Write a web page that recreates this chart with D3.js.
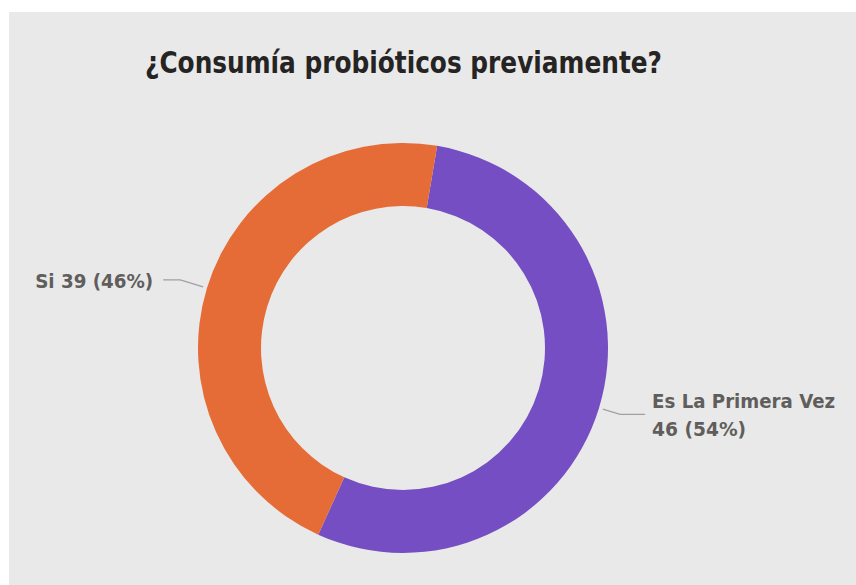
<!DOCTYPE html>
<html>
<head>
<meta charset="utf-8">
<script src="https://cdn.jsdelivr.net/npm/d3@7"></script>
<style>
  html, body { margin: 0; padding: 0; background: #ffffff; }
  svg { display: block; }
</style>
</head>
<body>
<svg id="chart" width="856" height="585"></svg>
<script>
const title = "¿Consumía probióticos previamente?";
const categories = ["Es La Primera Vez", "Si"];
const values = [46, 39];
const percents = ["54%", "46%"];
const colors = ["#744EC2", "#E66C37"];

const svg = d3.select("#chart");
const W = 856, H = 585;

svg.append("rect")
  .attr("x", 9).attr("y", 12)
  .attr("width", W - 9).attr("height", H - 12)
  .attr("fill", "#e9e9e9");

svg.append("text")
  .attr("x", 145).attr("y", 73)
  .attr("font-family", "'Liberation Sans Narrow', 'DejaVu Sans Condensed', sans-serif")
  .attr("font-weight", "bold")
  .attr("font-size", 31)
  .attr("fill", "#252423")
  .attr("textLength", 517)
  .attr("lengthAdjust", "spacingAndGlyphs")
  .text(title);

const cx = 403, cy = 348, rOuter = 205, rInner = 142;
const offset = 9.6 * Math.PI / 180;

const data = categories.map((c, i) => ({ cat: c, value: values[i], pct: percents[i], color: colors[i] }));

const pie = d3.pie().sort(null).value(d => d.value)
  .startAngle(offset).endAngle(offset + 2 * Math.PI);
const arc = d3.arc().innerRadius(rInner).outerRadius(rOuter);

const g = svg.append("g").attr("transform", `translate(${cx},${cy})`);
const arcs = pie(data);

g.selectAll("path.slice").data(arcs).enter().append("path")
  .attr("class", "slice")
  .attr("d", arc)
  .attr("fill", d => d.data.color);

const labelFont = "'DejaVu Sans Condensed', 'DejaVu Sans', sans-serif";
const labelColor = "#605E5C";

arcs.forEach((a, i) => {
  const mid = (a.startAngle + a.endAngle) / 2;
  const sx = Math.sin(mid), sy = -Math.cos(mid);
  const p1 = [sx * 209, sy * 209];
  const rElbow = i === 0 ? 227 : 233;
  const p2 = [sx * rElbow, sy * rElbow];
  const right = sx > 0;
  const p3 = [p2[0] + (right ? 25 : -17), p2[1]];
  g.append("path")
    .attr("d", d3.line()([p1, p2, p3]))
    .attr("fill", "none")
    .attr("stroke", "#a0a0a0")
    .attr("stroke-width", 1.3);

  const tx = p3[0] + (right ? 7 : -10);
  if (right) {
    const t1 = g.append("text")
      .attr("x", tx).attr("y", p3[1] - 6)
      .attr("font-family", labelFont).attr("font-weight", "bold")
      .attr("font-size", 19).attr("fill", labelColor)
      .attr("textLength", 183).attr("lengthAdjust", "spacingAndGlyphs")
      .text(a.data.cat);
    g.append("text")
      .attr("x", tx).attr("y", p3[1] + 22)
      .attr("font-family", labelFont).attr("font-weight", "bold")
      .attr("font-size", 19).attr("fill", labelColor)
      .attr("textLength", 94).attr("lengthAdjust", "spacingAndGlyphs")
      .text(`${a.data.value} (${a.data.pct})`);
  } else {
    g.append("text")
      .attr("x", tx - 118).attr("y", p3[1] + 8)
      .attr("font-family", labelFont).attr("font-weight", "bold")
      .attr("font-size", 19).attr("fill", labelColor)
      .attr("textLength", 118).attr("lengthAdjust", "spacingAndGlyphs")
      .text(`${a.data.cat} ${a.data.value} (${a.data.pct})`);
  }
});
</script>
</body>
</html>
